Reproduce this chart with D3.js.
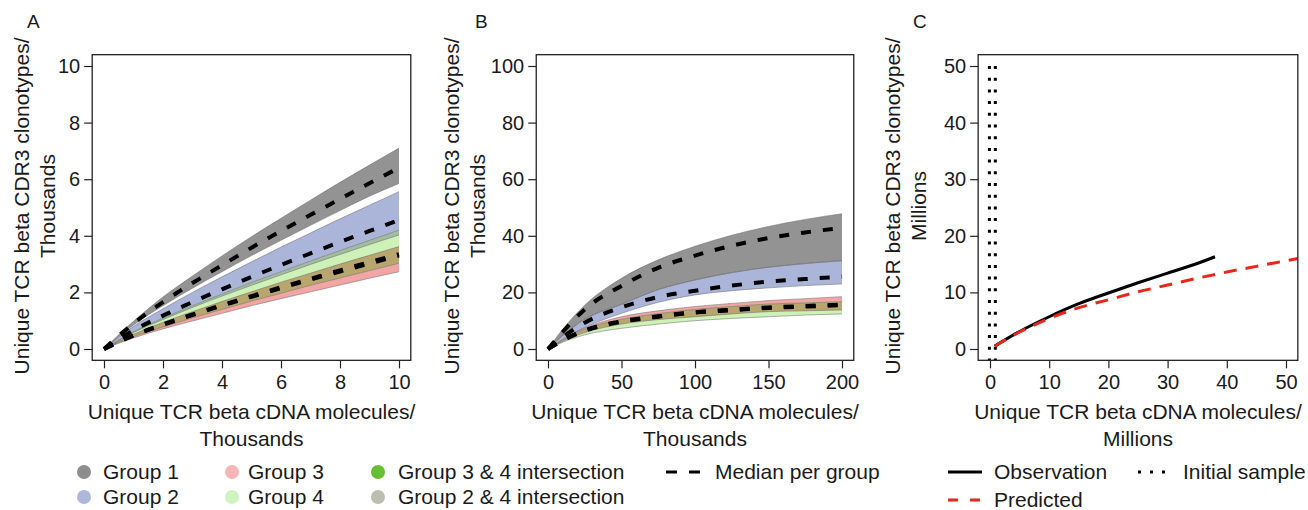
<!DOCTYPE html>
<html>
<head>
<meta charset="utf-8">
<script src="https://cdn.jsdelivr.net/npm/d3@7"></script>
<style>
body { margin: 0; background: #fff; }
text { font-family: "Liberation Sans", Arial, Helvetica, sans-serif; fill: #1a1a1a; }
</style>
</head>
<body>
<div id="main"></div>
<script>
// ---- panel A (thousands) ----
const xA = [0, 1, 2, 3, 4, 5, 6, 7, 8, 9, 10];
const g1HiA = [0, 0.98, 1.84, 2.58, 3.29, 3.97, 4.62, 5.26, 5.89, 6.5, 7.1];
const g1MedA = [0, 0.9, 1.66, 2.33, 2.96, 3.58, 4.17, 4.74, 5.3, 5.86, 6.4];
const g1LoA = [0, 0.85, 1.53, 2.15, 2.73, 3.3, 3.84, 4.37, 4.89, 5.4, 5.85];
const g2HiA = [0, 0.8, 1.42, 2.0, 2.55, 3.08, 3.6, 4.1, 4.6, 5.08, 5.56];
const g2MedA = [0, 0.66, 1.18, 1.66, 2.11, 2.55, 2.97, 3.38, 3.78, 4.17, 4.56];
const g2LoA = [0, 0.58, 1.04, 1.47, 1.87, 2.25, 2.62, 2.99, 3.34, 3.69, 4.03];
const g3HiA = [0, 0.52, 0.94, 1.32, 1.68, 2.02, 2.36, 2.68, 3.0, 3.31, 3.62];
const g3MedA = [0, 0.48, 0.85, 1.2, 1.53, 1.84, 2.15, 2.45, 2.74, 3.02, 3.3];
const g3LoA = [0, 0.39, 0.71, 0.99, 1.26, 1.53, 1.78, 2.02, 2.26, 2.5, 2.73];
const g4HiA = [0, 0.61, 1.09, 1.53, 1.94, 2.35, 2.73, 3.11, 3.48, 3.84, 4.2];
const g4MedA = [0, 0.48, 0.87, 1.22, 1.55, 1.87, 2.18, 2.48, 2.78, 3.07, 3.35];
const g4LoA = [0, 0.44, 0.78, 1.1, 1.4, 1.69, 1.97, 2.25, 2.51, 2.77, 3.03];

// ---- panel B (thousands) ----
const xB = [0, 10, 25, 50, 75, 100, 125, 150, 175, 200];
const g1HiB = [0, 7.0, 15.5, 25.0, 31.5, 36.3, 40.2, 43.3, 45.8, 47.8];
const g1MedB = [0, 6.0, 14.0, 22.3, 28.7, 33.0, 36.5, 39.2, 41.2, 42.8];
const g1LoB = [0, 4.8, 10.5, 15.8, 21.0, 24.4, 27.0, 28.9, 30.2, 31.2];
const g2HiB = [0, 4.8, 10.5, 15.8, 21.0, 24.4, 27.0, 28.9, 30.2, 31.2];
const g2MedB = [0, 4.2, 9.3, 14.7, 18.4, 20.6, 22.4, 23.8, 24.7, 25.6];
const g2LoB = [0, 3.5, 7.6, 12.6, 16.5, 19.1, 20.6, 21.6, 22.4, 23.0];
const g3HiB = [0, 3.3, 7.4, 11.4, 13.5, 15.0, 16.1, 17.1, 17.8, 18.5];
const g3MedB = [0, 3.1, 6.6, 9.8, 11.6, 13.0, 13.9, 14.7, 15.2, 15.7];
const g3LoB = [0, 2.7, 5.8, 8.8, 10.4, 11.4, 12.4, 13.2, 13.5, 13.8];
const g4HiB = [0, 3.1, 7.0, 10.5, 12.5, 14.0, 15.0, 15.9, 16.3, 16.7];
const g4MedB = [0, 3.0, 6.4, 9.6, 11.4, 12.9, 13.7, 14.5, 15.0, 15.5];
const g4LoB = [0, 2.4, 5.0, 7.3, 8.8, 10.0, 10.8, 11.4, 12.0, 12.4];

// ---- panel C (millions) ----
const obsX = [0.8, 5, 10, 15, 20, 25, 30, 35, 38];
const obsY = [0.5, 3.1, 5.7, 8.0, 9.9, 11.7, 13.4, 15.1, 16.3];
const predX = [0.8, 5, 10, 15, 20, 25, 30, 35, 40, 45, 52];
const predY = [0.5, 3.0, 5.4, 7.3, 8.7, 10.1, 11.3, 12.5, 13.6, 14.6, 16.0];
const initialSample = [-0.1, 0.9];

// ---- ticks / labels ----
const ticksA = [0, 2, 4, 6, 8, 10];
const ticksBx = [0, 50, 100, 150, 200];
const ticksBy = [0, 20, 40, 60, 80, 100];
const ticksC = [0, 10, 20, 30, 40, 50];
const xTitle = "Unique TCR beta cDNA molecules/";
const yTitle = "Unique TCR beta CDR3 clonotypes/";

const groupNames = ["Group 1", "Group 2", "Group 3", "Group 4"];
const groupFill = ["#939393", "#aab5d9", "#f3a5a5", "#cdf1b6"];
const legendLeft = ["Group 1", "Group 2", "Group 3", "Group 4",
                    "Group 3 & 4 intersection", "Group 2 & 4 intersection"];
const legendLeftColor = ["#8e8e8e", "#adb8d8", "#f9b6b6", "#cff4c0", "#66bf33", "#bcbfb0"];
const interFill = { "34": "#b9a66e", "24": "#a3bba0" };

const W = 1308, H = 510;
const svg = d3.select("#main").append("svg").attr("width", W).attr("height", H);

function zipBand(xs, lo, hi) {
    return xs.map((v, i) => ({x: v, lo: lo[i], hi: hi[i]}));
}

function makePanel(cfg) {
    const g = svg.append("g");
    const x = d3.scaleLinear().domain(cfg.xDom).range(cfg.xRange);
    const y = d3.scaleLinear().domain(cfg.yDom).range([349, 66]);
    const padX = (cfg.xRange[1] - cfg.xRange[0]) * 0.04;
    const padY = 283 * 0.04;
    const box = {l: cfg.xRange[0] - padX, r: cfg.xRange[1] + padX, t: 66 - padY, b: 349 + padY};

    g.append("clipPath").attr("id", "clip" + cfg.label)
     .append("rect")
     .attr("x", box.l).attr("y", box.t)
     .attr("width", box.r - box.l).attr("height", box.b - box.t);
    const plot = g.append("g").attr("clip-path", `url(#clip${cfg.label})`);

    // axes
    const ax = g.append("g").attr("transform", `translate(0,${box.b})`)
        .call(d3.axisBottom(x).tickValues(cfg.xTicks).tickSize(8).tickPadding(6).tickSizeOuter(0));
    const ay = g.append("g").attr("transform", `translate(${box.l},0)`)
        .call(d3.axisLeft(y).tickValues(cfg.yTicks).tickSize(8).tickPadding(4).tickSizeOuter(0));
    [ax, ay].forEach(a => {
        a.attr("font-size", null).attr("font-family", null);
        a.select(".domain").remove();
        a.selectAll("line").attr("stroke", "#222").attr("stroke-width", 1.2);
        a.selectAll("text").style("font-size", "20px").attr("fill", "#1a1a1a");
    });

    g.append("rect")
     .attr("x", box.l).attr("y", box.t)
     .attr("width", box.r - box.l).attr("height", box.b - box.t)
     .attr("fill", "none").attr("stroke", "#222").attr("stroke-width", 1.3);

    // panel letter
    g.append("text").attr("x", cfg.letterX).attr("y", 28)
     .style("font-size", "19px").text(cfg.label);

    // x title
    const xt = g.append("text").attr("text-anchor", "middle").style("font-size", "21px");
    xt.append("tspan").attr("x", (box.l + box.r) / 2).attr("y", 419).text(xTitle);
    xt.append("tspan").attr("x", (box.l + box.r) / 2).attr("y", 446).text(cfg.unit);

    // y title
    const yt = g.append("text").attr("text-anchor", "middle").style("font-size", "21px")
        .attr("transform", `translate(${cfg.yTitleX},206) rotate(-90)`);
    yt.append("tspan").attr("x", 0).attr("y", 0).text(yTitle);
    yt.append("tspan").attr("x", 0).attr("y", 26).text(cfg.unit);

    return {x, y, plot, box};
}

function drawGroups(p, xs, bands, meds, inters) {
    const area = d3.area()
        .defined(d => d.hi >= d.lo)
        .x(d => p.x(d.x)).y0(d => p.y(d.lo)).y1(d => p.y(d.hi))
        .curve(d3.curveMonotoneX);
    const line = d3.line()
        .x(d => p.x(d[0])).y(d => p.y(d[1]))
        .curve(d3.curveMonotoneX);

    bands.forEach((b, i) => {
        p.plot.append("path").datum(zipBand(xs, b.lo, b.hi))
         .attr("d", area).attr("fill", groupFill[i]);
    });
    // overlap of two groups' bands
    inters.forEach(it => {
        const a = bands[it.a], b = bands[it.b];
        const lo = xs.map((v, i) => Math.max(a.lo[i], b.lo[i]));
        const hi = xs.map((v, i) => Math.min(a.hi[i], b.hi[i]));
        p.plot.append("path").datum(zipBand(xs, lo, hi))
         .attr("d", area).attr("fill", it.fill);
    });
    bands.forEach(b => {
        [b.lo, b.hi].forEach(arr => {
            p.plot.append("path").datum(xs.map((v, i) => [v, arr[i]]))
             .attr("d", line).attr("fill", "none")
             .attr("stroke", "#6e6e6e").attr("stroke-width", 0.9).attr("stroke-opacity", 0.6);
        });
    });
    meds.forEach(m => {
        p.plot.append("path").datum(xs.map((v, i) => [v, m[i]]))
         .attr("d", line).attr("fill", "none")
         .attr("stroke", "#000").attr("stroke-width", 4)
         .attr("stroke-dasharray", "10,12");
    });
}

// panel A
const pA = makePanel({label: "A", letterX: 27, xDom: [0, 10], yDom: [0, 10], xRange: [104, 399],
    xTicks: ticksA, yTicks: ticksA, unit: "Thousands", yTitleX: 29});
drawGroups(pA, xA,
    [{lo: g1LoA, hi: g1HiA}, {lo: g2LoA, hi: g2HiA}, {lo: g3LoA, hi: g3HiA}, {lo: g4LoA, hi: g4HiA}],
    [g1MedA, g2MedA, g3MedA, g4MedA],
    [{a: 2, b: 3, fill: interFill["34"]}, {a: 1, b: 3, fill: interFill["24"]}]);

// panel B
const pB = makePanel({label: "B", letterX: 475, xDom: [0, 200], yDom: [0, 100], xRange: [548, 842],
    xTicks: ticksBx, yTicks: ticksBy, unit: "Thousands", yTitleX: 459});
drawGroups(pB, xB,
    [{lo: g1LoB, hi: g1HiB}, {lo: g2LoB, hi: g2HiB}, {lo: g3LoB, hi: g3HiB}, {lo: g4LoB, hi: g4HiB}],
    [g1MedB, g2MedB, g3MedB, g4MedB],
    [{a: 2, b: 3, fill: interFill["34"]}, {a: 1, b: 3, fill: interFill["24"]}]);

// panel C
const pC = makePanel({label: "C", letterX: 913, xDom: [0, 50], yDom: [0, 50], xRange: [990, 1286],
    xTicks: ticksC, yTicks: ticksC, unit: "Millions", yTitleX: 900});
const lineC = d3.line().x(d => pC.x(d[0])).y(d => pC.y(d[1])).curve(d3.curveMonotoneX);
initialSample.forEach(v => {
    pC.plot.append("line")
      .attr("x1", pC.x(v)).attr("x2", pC.x(v))
      .attr("y1", pC.y(50)).attr("y2", pC.box.b)
      .attr("stroke", "#000").attr("stroke-width", 3)
      .attr("stroke-dasharray", "3,8.7");
});
pC.plot.append("path").datum(obsX.map((v, i) => [v, obsY[i]]))
  .attr("d", lineC).attr("fill", "none").attr("stroke", "#000").attr("stroke-width", 3);
pC.plot.append("path").datum(predX.map((v, i) => [v, predY[i]]))
  .attr("d", lineC).attr("fill", "none").attr("stroke", "#e8261c").attr("stroke-width", 3)
  .attr("stroke-dasharray", "13,9");

// legends
const leg = svg.append("g").style("font-size", "21px");
const colCircle = [84, 232, 378];
const colText = [103, 248, 398];
const rowY = [472, 497];
legendLeft.forEach((name, i) => {
    const c = Math.floor(i / 2), r = i % 2;
    leg.append("circle").attr("cx", colCircle[c]).attr("cy", rowY[r]).attr("r", 7)
       .attr("fill", legendLeftColor[i]);
    leg.append("text").attr("x", colText[c]).attr("y", rowY[r] + 7).text(name);
});
leg.append("line").attr("x1", 666).attr("x2", 700).attr("y1", rowY[0]).attr("y2", rowY[0])
   .attr("stroke", "#000").attr("stroke-width", 3).attr("stroke-dasharray", "11,12");
leg.append("text").attr("x", 715).attr("y", rowY[0] + 7).text("Median per group");

leg.append("line").attr("x1", 948).attr("x2", 982).attr("y1", 472).attr("y2", 472)
   .attr("stroke", "#000").attr("stroke-width", 3);
leg.append("text").attr("x", 994).attr("y", 479).text("Observation");
leg.append("line").attr("x1", 1138).attr("x2", 1166).attr("y1", 472).attr("y2", 472)
   .attr("stroke", "#000").attr("stroke-width", 3).attr("stroke-dasharray", "3,9");
leg.append("text").attr("x", 1183).attr("y", 479).text("Initial sample");
leg.append("line").attr("x1", 948).attr("x2", 982).attr("y1", 500).attr("y2", 500)
   .attr("stroke", "#e8261c").attr("stroke-width", 3).attr("stroke-dasharray", "10,12");
leg.append("text").attr("x", 994).attr("y", 507).text("Predicted");
</script>
</body>
</html>
